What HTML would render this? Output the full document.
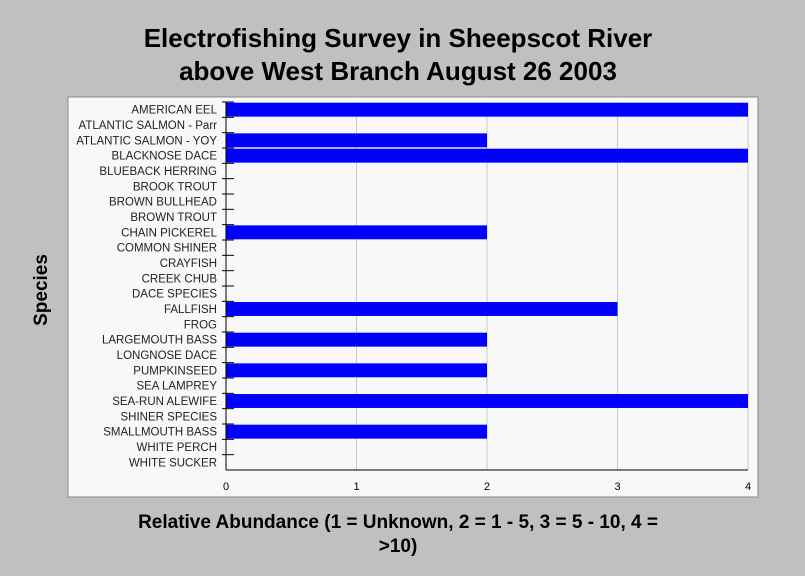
<!DOCTYPE html>
<html><head><meta charset="utf-8"><style>
body{margin:0;background:#c0c0c0;}
svg{display:block;font-family:"Liberation Sans",sans-serif;}
</style></head><body>
<svg width="805" height="576">
<rect x="0" y="0" width="805" height="576" fill="#c0c0c0"/>
<text x="398" y="47" text-anchor="middle" font-size="26" font-weight="bold">Electrofishing Survey in Sheepscot River</text>
<text x="398" y="80" text-anchor="middle" font-size="26" font-weight="bold">above West Branch August 26 2003</text>
<rect x="68" y="97" width="690" height="400" fill="#f8f8f8" stroke="#888"/>
<g id="grid"></g><g id="bars"></g><g id="axes"></g>
<text transform="translate(47,290) rotate(-90)" text-anchor="middle" font-size="19" font-weight="bold">Species</text>
<text x="398" y="528" text-anchor="middle" font-size="19" font-weight="bold">Relative Abundance (1 = Unknown, 2 = 1 - 5, 3 = 5 - 10, 4 =</text>
<text x="398" y="552" text-anchor="middle" font-size="19" font-weight="bold">&gt;10)</text>
</svg>
<script>
const categories=["AMERICAN EEL","ATLANTIC SALMON - Parr","ATLANTIC SALMON - YOY","BLACKNOSE DACE","BLUEBACK HERRING","BROOK TROUT","BROWN BULLHEAD","BROWN TROUT","CHAIN PICKEREL","COMMON SHINER","CRAYFISH","CREEK CHUB","DACE SPECIES","FALLFISH","FROG","LARGEMOUTH BASS","LONGNOSE DACE","PUMPKINSEED","SEA LAMPREY","SEA-RUN ALEWIFE","SHINER SPECIES","SMALLMOUTH BASS","WHITE PERCH","WHITE SUCKER"];
const values=[4,0,2,4,0,0,0,0,2,0,0,0,0,3,0,2,0,2,0,4,0,2,0,0];
const xTicks=[0,1,2,3,4];
const NS="http://www.w3.org/2000/svg";
const x0=226,x1=748,y0=102,y1=470,xMax=4;
const xs=v=>x0+(v/xMax)*(x1-x0);
const rh=(y1-y0)/categories.length;
const ys=i=>y0+i*rh;
function mk(t,a,p){const e=document.createElementNS(NS,t);for(const k in a)e.setAttribute(k,a[k]);p.appendChild(e);return e;}
const g=document.getElementById('grid'),b=document.getElementById('bars'),ax=document.getElementById('axes');
xTicks.forEach(t=>{
 if(t>0){const l=mk('line',{x1:xs(t),x2:xs(t),y1:y0,y2:y1,stroke:'#c8c8c8'},g);
 
 }
 const tx=mk('text',{x:xs(t),y:490,'text-anchor':'middle','font-size':11},ax);tx.textContent=t;
 
 
});
categories.forEach((c,i)=>{
 if(values[i]>0){const r=mk('rect',{x:x0,y:ys(i)+0.7,width:xs(values[i])-x0,height:rh-1.4,fill:'#0000ff'},b);
 
 }
 const t=mk('text',{x:217,y:ys(i)+rh/2+4,'text-anchor':'end','font-size':11.5,fill:'#222'},ax);t.textContent=c;
 
 
 const tk=mk('line',{x1:222,x2:234,y1:ys(i),y2:ys(i),stroke:'#000'},ax);
 
 
});
const ya=mk('line',{x1:x0,x2:x0,y1:y0,y2:y1,stroke:'#000'},ax);


const xa=mk('line',{x1:x0,x2:x1,y1:y1,y2:y1,stroke:'#000'},ax);


</script>
</body></html>
